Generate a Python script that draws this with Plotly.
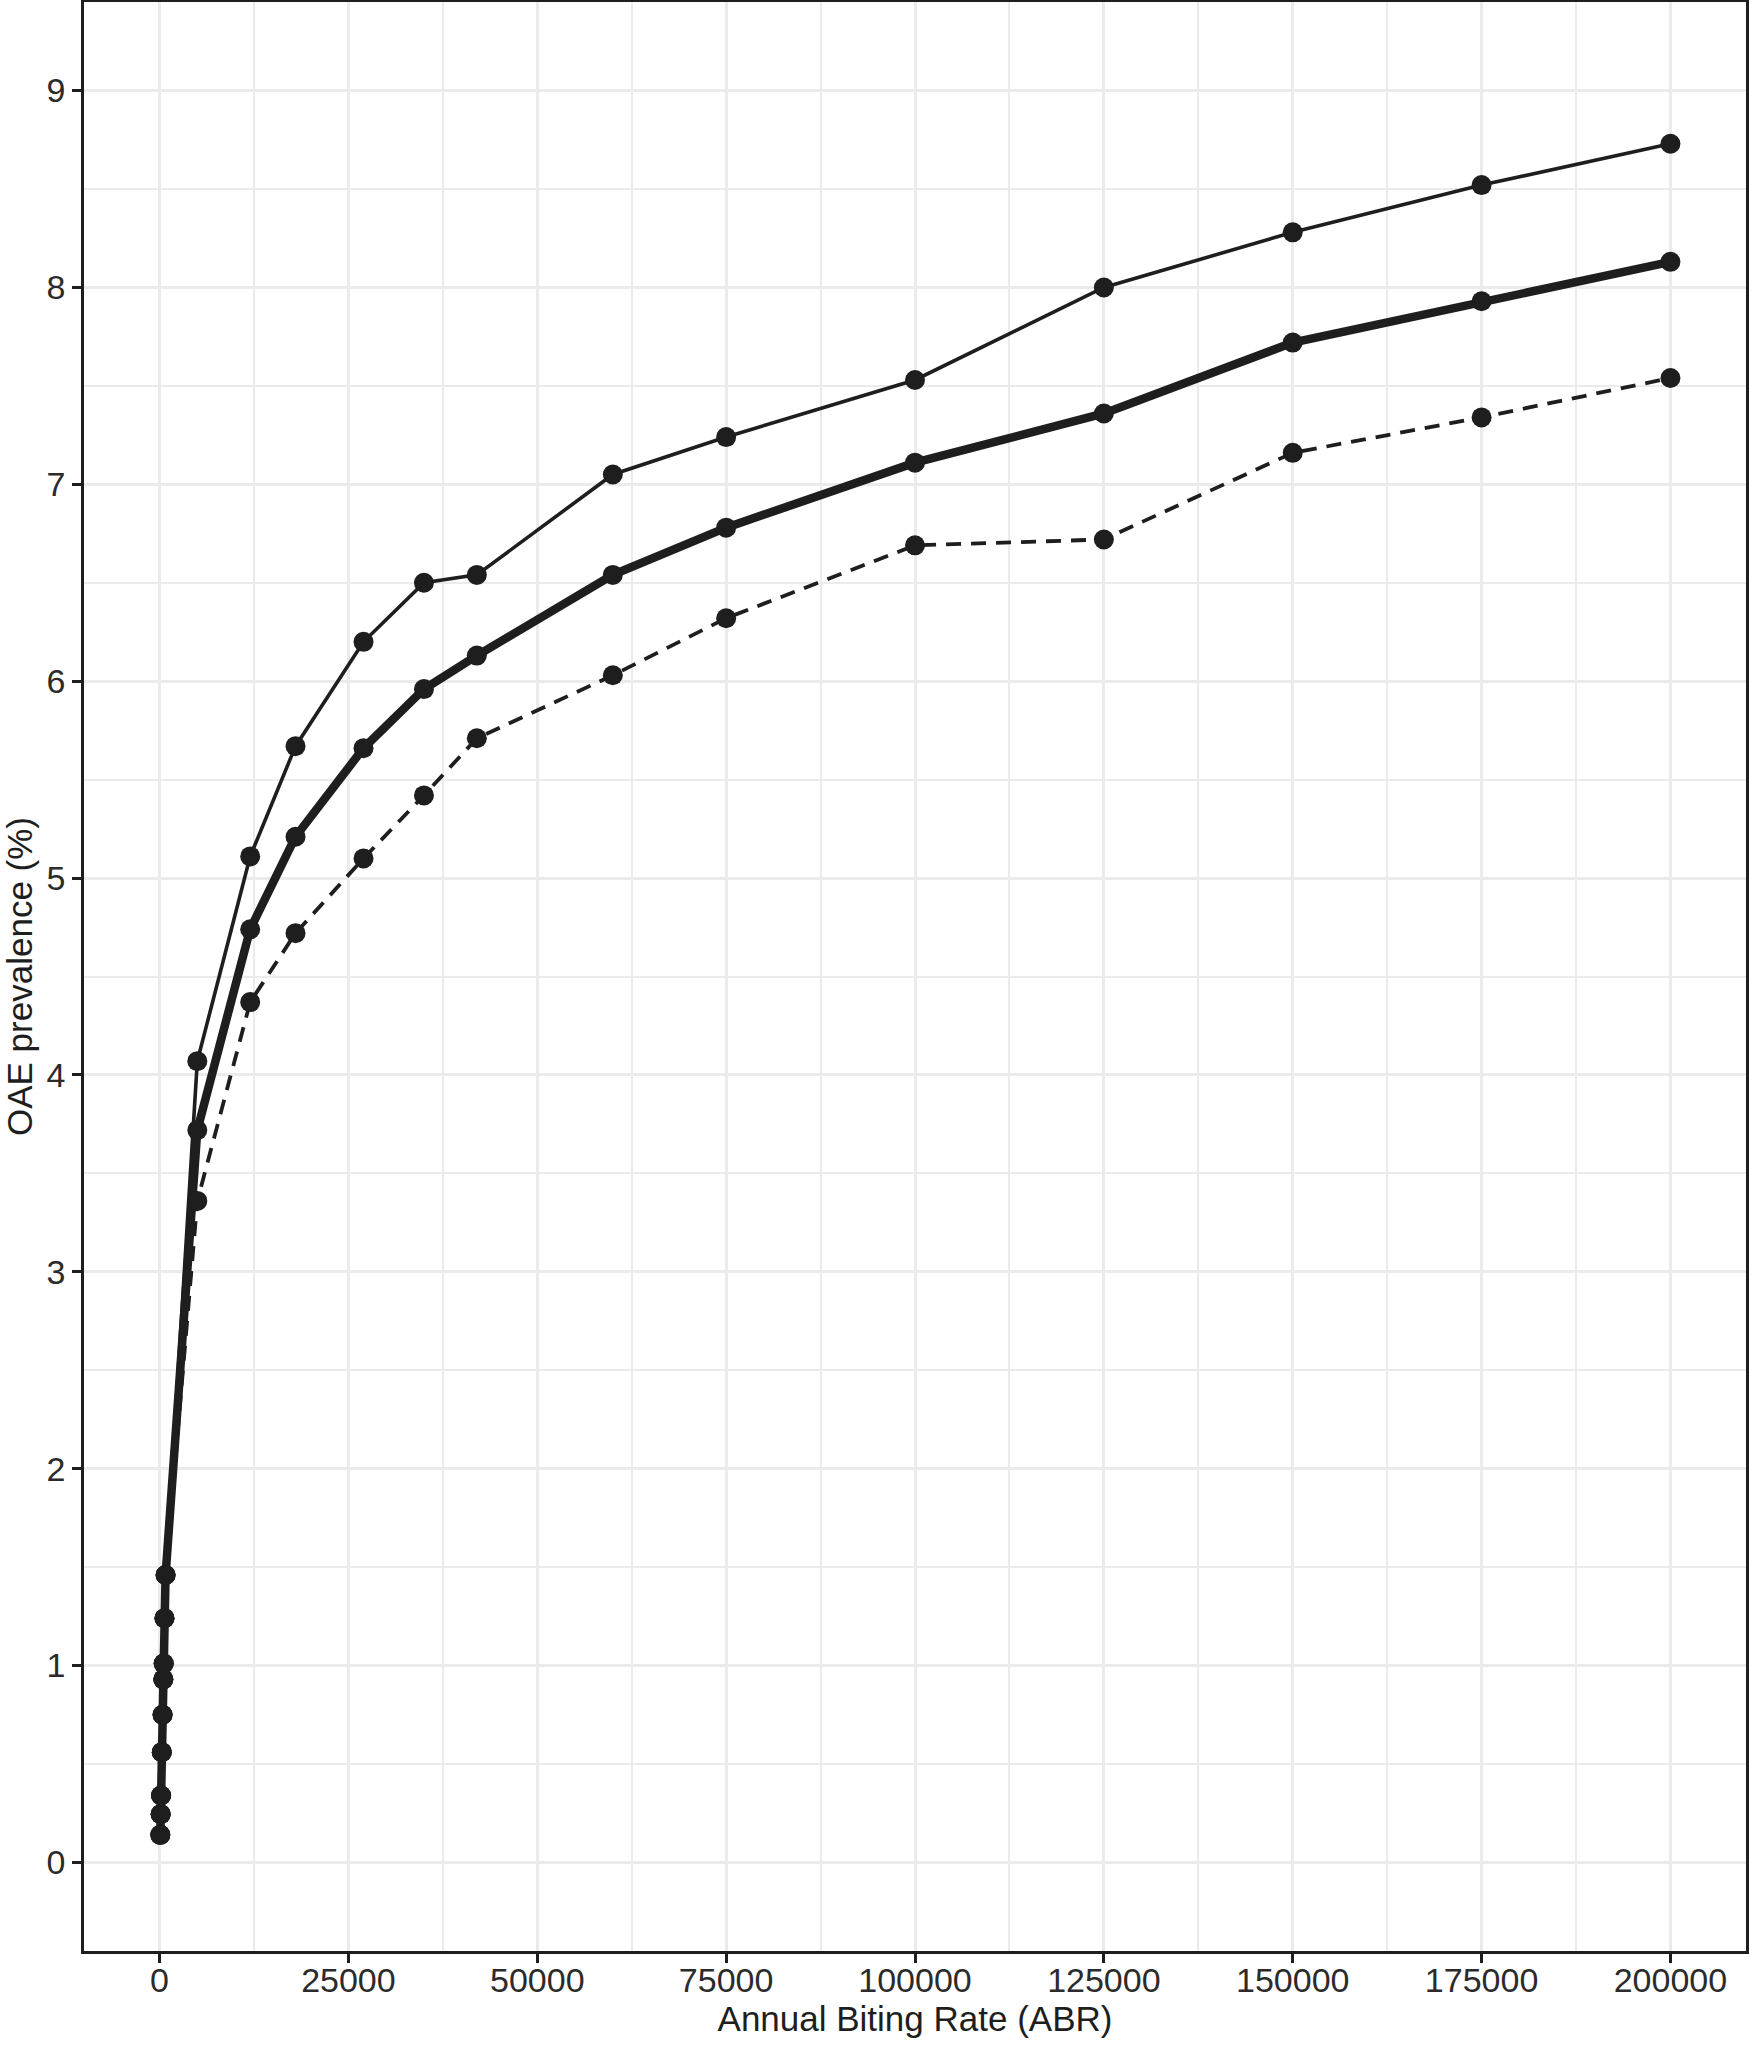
import plotly.graph_objects as go

# ABR values (x) shared by all three curves
abr = [100, 150, 200, 300, 400, 500, 550, 650, 800,
       5000, 12000, 18000, 27000, 35000, 42000, 60000, 75000,
       100000, 125000, 150000, 175000, 200000]

# low end: the three curves overlap
low_part = [0.14, 0.245, 0.34, 0.56, 0.75, 0.93, 1.01, 1.24, 1.46]

upper = low_part + [4.07, 5.11, 5.67, 6.20, 6.50, 6.54, 7.05, 7.24,
                    7.53, 8.00, 8.28, 8.52, 8.73]
middle = low_part + [3.72, 4.74, 5.21, 5.66, 5.96, 6.13, 6.54, 6.78,
                     7.11, 7.36, 7.72, 7.93, 8.13]
lower = low_part + [3.36, 4.37, 4.72, 5.10, 5.42, 5.71, 6.03, 6.32,
                    6.69, 6.72, 7.16, 7.34, 7.54]

x_ticks = [0, 25000, 50000, 75000, 100000, 125000, 150000, 175000, 200000]
y_ticks = [0, 1, 2, 3, 4, 5, 6, 7, 8, 9]

ink = "#1e1e1e"
grid = "#ebebeb"

fig = go.Figure()

# lines first
fig.add_trace(go.Scatter(x=abr, y=upper, mode="lines",
                         line=dict(color=ink, width=3.6)))
fig.add_trace(go.Scatter(x=abr, y=lower, mode="lines",
                         line=dict(color=ink, width=3.8, dash="15px,10px")))
fig.add_trace(go.Scatter(x=abr, y=middle, mode="lines",
                         line=dict(color=ink, width=8.5)))

# then points on top
for series in [upper, lower, middle]:
    fig.add_trace(go.Scatter(x=abr, y=series, mode="markers",
                             marker=dict(color=ink, size=20, line=dict(width=0))))

fig.update_layout(
    width=1750, height=2046,
    margin=dict(l=84, r=4, t=2, b=95),
    plot_bgcolor="white", paper_bgcolor="white",
    showlegend=False,
    font=dict(family="Liberation Sans, Arial, sans-serif", color="#2b2b2b"),
)

fig.update_xaxes(
    range=[-10000, 210000], automargin=False,
    tickvals=x_ticks, ticktext=[str(v) for v in x_ticks],
    tickfont=dict(size=34, color="#2b2b2b"),
    ticks="outside", ticklen=9, tickwidth=2.5, tickcolor=ink,
    ticklabelstandoff=-12,
    showgrid=True, gridcolor=grid, gridwidth=2.8,
    minor=dict(dtick=12500, tick0=0, showgrid=True, gridcolor=grid, gridwidth=1.5),
    showline=True, linecolor=ink, linewidth=2.5, mirror=True,
    zeroline=False,
    title=dict(text="Annual Biting Rate (ABR)", font=dict(size=35, color=ink), standoff=9),
)
fig.update_yaxes(
    range=[-0.45, 9.45], automargin=False,
    tickvals=y_ticks, ticktext=[str(v) for v in y_ticks],
    tickfont=dict(size=34, color="#2b2b2b"),
    ticks="outside", ticklen=9, tickwidth=2.5, tickcolor=ink,
    showgrid=True, gridcolor=grid, gridwidth=2.8,
    minor=dict(dtick=0.5, tick0=0, showgrid=True, gridcolor=grid, gridwidth=1.5),
    showline=True, linecolor=ink, linewidth=2.5, mirror=True,
    zeroline=False,
    title=dict(text="OAE prevalence (%)", font=dict(size=35, color=ink), standoff=6),
)

# drop the page's default body margin so the figure fills the window
fig.write_html("out.html", config={"displayModeBar": False},
               post_script="document.body.style.margin='0';document.body.style.overflow='hidden';")
